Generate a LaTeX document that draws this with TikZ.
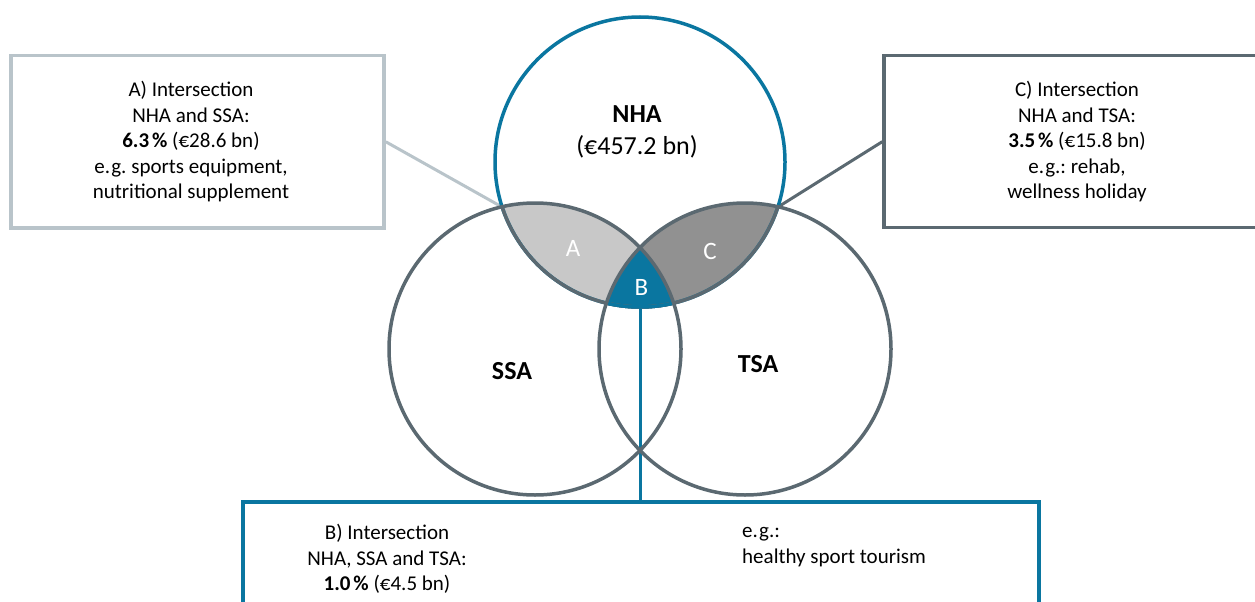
\documentclass[tikz,border=0pt]{standalone}
\usepackage{fontspec}
\setmainfont{Carlito}
\frenchspacing
\definecolor{bblue}{HTML}{0A76A0}
\definecolor{dgray}{HTML}{5B6971}
\definecolor{lgraybox}{HTML}{B9C4CA}
\definecolor{lensA}{HTML}{C8C8C8}
\definecolor{lensC}{HTML}{919191}
\newcommand{\tsp}{\hspace{0.06em}}
\newcommand{\psp}{\hspace{0.14em}}
\begin{document}
\begin{tikzpicture}[x=1pt,y=-1pt,
  txt/.style={font=\fontsize{21}{25.5}\selectfont, align=center, inner sep=0},
  big/.style={font=\fontsize{26}{32}\selectfont, align=center, inner sep=0},
  reg/.style={font=\fontsize{25}{30}\selectfont, text=white, inner sep=0},
  conn/.style={line width=3pt},
  ring/.style={circle, line width=3.5pt, inner sep=0, minimum size=#1},
  frame/.style={rectangle, line width=3.5pt, inner sep=0}
]
\useasboundingbox (0,0) rectangle (1255,602);
\clip (0,0) rectangle (1255,602);

% circle centres
\coordinate (cN) at (640,162);
\coordinate (cS) at (535,349);
\coordinate (cT) at (745,349);
\coordinate (pA) at (502,207);
\coordinate (pC) at (778,207);

% boxes
\node[frame, draw=lgraybox, minimum width=373pt, minimum height=172.5pt] (boxA) at (197.6,141.8) {};
\node[frame, draw=dgray, minimum width=391pt, minimum height=172pt] (boxC) at (1079.5,141.7) {};
\node[frame, draw=bblue, minimum width=796pt, minimum height=160pt] (boxB) at (641,582) {};

% connectors
\draw[conn, lgraybox] (boxA.east) -- (pA);
\draw[conn, dgray] (boxC.west) -- (pC);

% lens fills
\begin{scope}
  \clip (cN) circle[radius=145pt];
  \fill[lensA] (cS) circle[radius=146pt];
  \fill[lensC] (cT) circle[radius=146pt];
  \clip (cS) circle[radius=146pt];
  \fill[bblue] (cT) circle[radius=146pt];
\end{scope}

% NHA circle
\node[ring=290pt, draw=bblue] (nha) at (cN) {};
\draw[conn, bblue] (nha.south) -- (nha.south |- boxB.north);

% NHA arc inside lenses drawn gray
\begin{scope}
  \clip (cS) circle[radius=146pt];
  \draw[line width=3.5pt, dgray] (cN) circle[radius=145pt];
\end{scope}
\begin{scope}
  \clip (cT) circle[radius=146pt];
  \draw[line width=3.5pt, dgray] (cN) circle[radius=145pt];
\end{scope}
\begin{scope}
  \clip (cS) circle[radius=146pt];
  \clip (cT) circle[radius=146pt];
  \draw[line width=3.5pt, bblue] (cN) circle[radius=145pt];
\end{scope}

% SSA and TSA circles
\node[ring=292pt, draw=dgray] (ssa) at (cS) {};
\node[ring=292pt, draw=dgray] (tsa) at (cT) {};

% labels in circles
\node[big] (lN) at (637,132) {\textbf{NHA}\\(€457.2 bn)};
\node[big, font=\fontsize{26}{32}\selectfont\bfseries] (lS) at (512,371) {SSA};
\node[big, font=\fontsize{26}{32}\selectfont\bfseries] (lT) at (758,364) {TSA};
\node[reg] (rA) at (573,248) {A};
\node[reg] (rC) at (710,251) {C};
\node[reg] (rB) at (641.5,287) {B};

% box texts
\node[txt] (tA) at (191,142) {A) Intersection\\NHA and SSA:\\\textbf{6.3\psp\%} (€28.6 bn)\\e.\tsp g. sports equipment,\\nutritional supplement};
\node[txt] (tC) at (1077,142) {C) Intersection\\NHA and TSA:\\\textbf{3.5\psp\%} (€15.8 bn)\\e.\tsp g.: rehab,\\wellness holiday};
\node[txt] (tB) at (387,559) {B) Intersection\\NHA, SSA and TSA:\\\textbf{1.0\psp\%} (€4.5 bn)};
\node[txt, align=left, anchor=west] (tB2) at (742,547) {e.\tsp g.:\\healthy sport tourism};
\end{tikzpicture}
\end{document}
